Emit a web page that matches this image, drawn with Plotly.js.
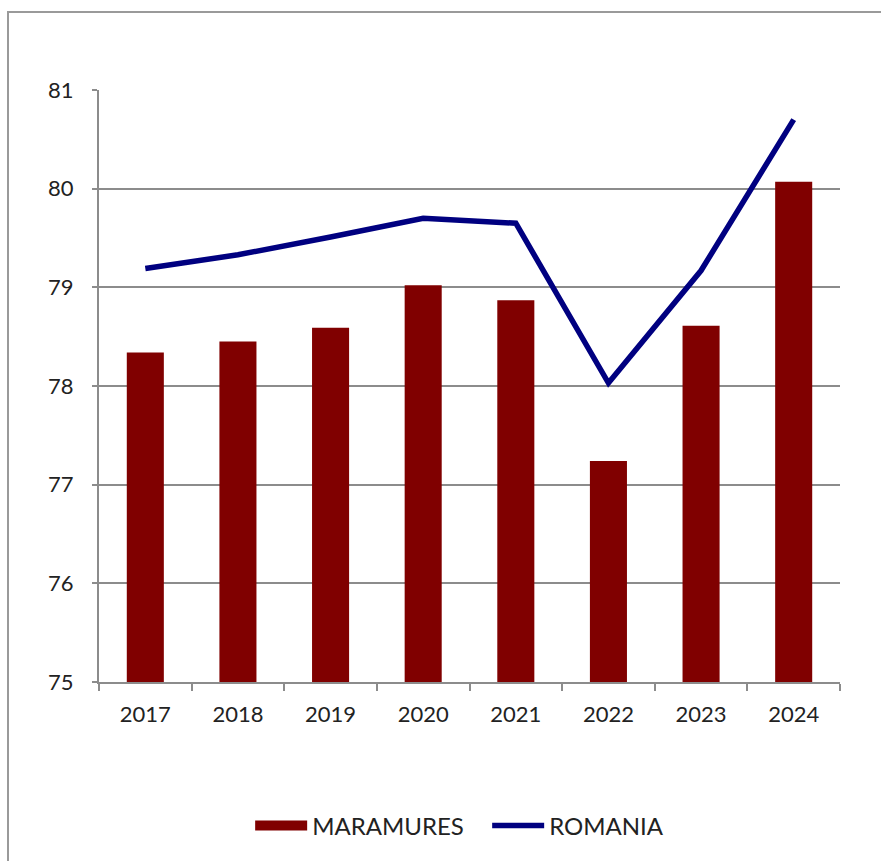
<!DOCTYPE html>
<html>
<head>
<meta charset="utf-8">
<script src="https://cdn.plot.ly/plotly-3.0.1.min.js"></script>
<style>
  html, body { margin: 0; padding: 0; background: #ffffff; }
  #wrap { position: relative; width: 881px; height: 861px; overflow: hidden; }
  #frame { position: absolute; left: 7px; top: 11px; width: 900px; height: 900px;
           border-top: 2px solid #9a9a9a; border-left: 2px solid #9a9a9a; pointer-events: none; }
  #chart { position: absolute; left: 0; top: 0; width: 881px; height: 861px; }
</style>
</head>
<body>
<div id="wrap">
  <div id="chart"></div>
  <div id="frame"></div>
</div>
<script>
const years = ["2017", "2018", "2019", "2020", "2021", "2022", "2023", "2024"];
const maramures = [78.34, 78.45, 78.59, 79.02, 78.87, 77.24, 78.61, 80.07];
const romania = [79.19, 79.33, 79.51, 79.70, 79.65, 78.03, 79.17, 80.70];
const yTicks = [75, 76, 77, 78, 79, 80, 81];

const fontFamily = "Lato, 'Open Sans', 'DejaVu Sans', sans-serif";
const barColor = "#800000";
const lineColor = "#000080";

const traces = [
  {
    type: "bar",
    name: "MARAMURES",
    x: years,
    y: maramures,
    marker: { color: barColor, line: { width: 0 } },
    showlegend: false,
    legendgroup: "m",
    hoverinfo: "x+y"
  },
  {
    // legend-only entry drawing the wide rectangle swatch
    type: "scatter",
    mode: "lines",
    name: "MARAMURES",
    x: [null],
    y: [null],
    legendgroup: "m",
    line: { color: barColor, width: 15 },
    hoverinfo: "skip"
  },
  {
    type: "scatter",
    mode: "lines",
    name: "ROMANIA",
    x: years,
    y: romania,
    line: { color: lineColor, width: 5.5 },
    hoverinfo: "x+y"
  }
];

const layout = {
  width: 881,
  height: 861,
  margin: { l: 99, r: 41, t: 90, b: 179 },
  paper_bgcolor: "#ffffff",
  plot_bgcolor: "#ffffff",
  font: { family: fontFamily, size: 22, color: "#222222" },
  bargap: 0.6,
  showlegend: true,
  legend: {
    orientation: "h",
    x: 0.204,
    xanchor: "left",
    y: -0.243,
    yanchor: "middle",
    font: { family: fontFamily, size: 24, color: "#222222" },
    itemwidth: 52,
    entrywidth: 170,
    entrywidthmode: "pixels",
    traceorder: "normal"
  },
  xaxis: {
    type: "category",
    tickson: "boundaries",
    ticks: "outside",
    ticklen: 7,
    tickwidth: 2,
    tickcolor: "#8c8c8c",
    showline: true,
    linecolor: "#8c8c8c",
    linewidth: 2,
    showgrid: false,
    tickfont: { family: fontFamily, size: 22, color: "#222222" },
    ticklabelstandoff: 12,
    fixedrange: true
  },
  yaxis: {
    range: [75, 81],
    tickvals: yTicks,
    ticktext: yTicks.map(String),
    ticks: "outside",
    ticklen: 5,
    tickwidth: 2,
    tickcolor: "#8c8c8c",
    showline: true,
    linecolor: "#8c8c8c",
    linewidth: 2,
    showgrid: true,
    gridcolor: "#8c8c8c",
    gridwidth: 2,
    zeroline: false,
    tickfont: { family: fontFamily, size: 22, color: "#222222" },
    ticklabelstandoff: 14,
    fixedrange: true
  }
};

Plotly.newPlot("chart", traces, layout, { displayModeBar: false, staticPlot: true });
</script>
</body>
</html>
